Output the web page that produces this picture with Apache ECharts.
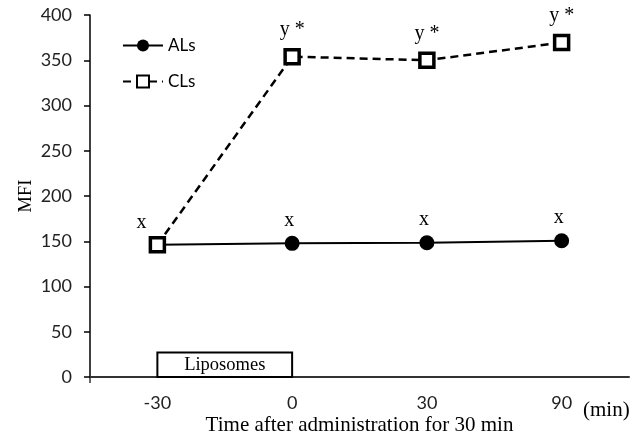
<!DOCTYPE html>
<html><head><meta charset="utf-8">
<script src="https://cdn.jsdelivr.net/npm/echarts@6/dist/echarts.min.js"></script>
<style>html,body{margin:0;padding:0;background:#fff}#c{width:641px;height:440px}</style>
</head><body><div id="c"></div>
<script>
const categories = ['-30', '0', '30', '90'];
const alValues = [146, 147.7, 148.4, 150.6];
const clValues = [146, 354, 350, 369.5];
const alLabels = ['x', 'x', 'x', 'x'];
const clLabels = ['', 'y *', 'y *', 'y *'];
const yTicks = { min: 0, max: 400, interval: 50 };

const chart = echarts.init(document.getElementById('c'));
const serif = 'Liberation Serif';
const sans = 'Lato';
chart.setOption({
  animation: false,
  grid: { left: 90, right: 12, top: 15, bottom: 63, outerBoundsMode: 'none', containLabel: false },
  legend: {
    orient: 'vertical', left: 117, top: 32, itemGap: 19, itemWidth: 40, itemHeight: 15,
    textStyle: { fontFamily: sans, fontSize: 17, color: '#000' },
    data: ['ALs', 'CLs']
  },
  xAxis: {
    type: 'category', data: categories, boundaryGap: true,
    axisLine: { lineStyle: { color: '#333', width: 2 } },
    axisTick: { alignWithLabel: true, length: 6, lineStyle: { color: '#333', width: 1.5 } },
    axisLabel: { fontFamily: sans, fontSize: 18, color: '#222', margin: 17 },
    name: 'Time after administration for 30 min', nameLocation: 'middle', nameGap: 38,
    nameMoveOverlap: false,
    nameTextStyle: { fontFamily: serif, fontSize: 21, color: '#000' }
  },
  yAxis: {
    type: 'value', min: yTicks.min, max: yTicks.max, interval: yTicks.interval,
    splitLine: { show: false },
    axisLine: { show: true, lineStyle: { color: '#000', width: 1.5 } },
    axisTick: { show: true, length: 6, lineStyle: { color: '#000', width: 1.5 } },
    axisLabel: { fontFamily: sans, fontSize: 18, color: '#222', margin: 18 },
    name: 'MFI', nameLocation: 'middle', nameGap: 54, nameRotate: 90,
    nameMoveOverlap: false,
    nameTextStyle: { fontFamily: serif, fontSize: 18.5, color: '#000' }
  },
  graphic: [
    { type: 'text', left: 583, top: 400, style: { text: '(min)', font: '21px "Liberation Serif"', fill: '#000' } },
    { type: 'line', shape: { x1: 90, y1: 377, x2: 90, y2: 383 }, style: { stroke: '#333', lineWidth: 1.5 } }
  ],
  series: [
    {
      name: 'ALs', type: 'line', z: 2,
      data: alValues.map((v, i) => ({
        value: v,
        label: { show: true, formatter: alLabels[i], offset: i === 0 ? [-16, 0] : [-3, 0] }
      })),
      symbol: 'circle', symbolSize: 15,
      itemStyle: { color: '#000' },
      lineStyle: { color: '#000', width: 2 },
      label: { position: 'top', distance: 5, fontFamily: serif, fontSize: 20, color: '#000' },
      markArea: {
        silent: true,
        itemStyle: { color: '#fff', borderColor: '#000', borderWidth: 2 },
        label: { show: true, position: 'inside', fontFamily: serif, fontSize: 18.5, color: '#000' },
        data: [[{ name: 'Liposomes', xAxis: '-30', yAxis: 0 }, { xAxis: '0', yAxis: 27 }]]
      }
    },
    {
      name: 'CLs', type: 'line', z: 3,
      data: clValues.map((v, i) => ({
        value: v,
        label: { show: clLabels[i] !== '', formatter: clLabels[i] }
      })),
      symbol: 'rect', symbolSize: 14,
      itemStyle: { color: '#fff', borderColor: '#000', borderWidth: 3.5 },
      lineStyle: { color: '#000', width: 2.5, type: [8, 5] },
      label: { position: 'top', distance: 8, fontFamily: serif, fontSize: 20, color: '#000' }
    }
  ]
});
</script></body></html>
